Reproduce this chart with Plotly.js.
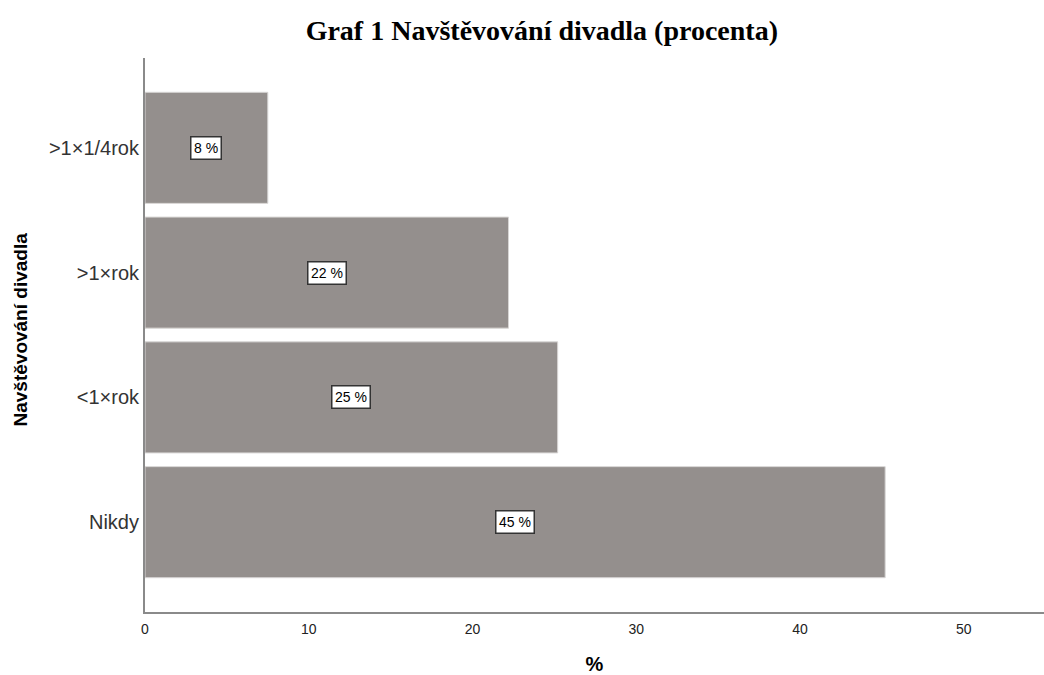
<!DOCTYPE html>
<html>
<head>
<meta charset="utf-8">
<script src="https://cdn.plot.ly/plotly-3.0.1.min.js"></script>
<style>html,body{margin:0;padding:0;background:#fff;}#chart{width:1044px;height:675px;}</style>
</head>
<body>
<div id="chart"></div>
<script>
const categories = ["Nikdy", "<1×rok", ">1×rok", ">1×1/4rok"];
const values = [45.2, 25.2, 22.2, 7.5];
const labels = ["45 %", "25 %", "22 %", "8 %"];
const xTicks = [0, 10, 20, 30, 40, 50];

const trace = {
  type: "bar",
  orientation: "h",
  y: categories,
  x: values,
  width: 0.89,
  marker: {color: "#948f8d", line: {color: "#d8d6d5", width: 1}},
  hoverinfo: "none"
};

const annotations = categories.map((c, i) => ({
  x: values[i] / 2, y: c, xref: "x", yref: "y",
  text: labels[i], showarrow: false,
  font: {family: "Liberation Sans, Arial, sans-serif", size: 14, color: "#000"},
  bgcolor: "#ffffff", bordercolor: "#333333", borderwidth: 1.5, borderpad: 2.5
}));
annotations.push({
  xref: "paper", yref: "paper", x: -0.139, y: 0.51,
  text: "<b>Navštěvování divadla</b>", textangle: -90, showarrow: false,
  xanchor: "center", yanchor: "middle",
  font: {family: "Liberation Sans, Arial, sans-serif", size: 19, color: "#000"}
});

const layout = {
  width: 1044, height: 675,
  margin: {l: 145, r: 0, t: 58, b: 63},
  paper_bgcolor: "#fff", plot_bgcolor: "#fff",
  showlegend: false,
  title: {
    text: "<b>Graf 1 Navštěvování divadla (procenta)</b>",
    x: 0.519, xanchor: "center", y: 0.955, yanchor: "middle",
    font: {family: "Liberation Serif, Times New Roman, serif", size: 28, color: "#000"}
  },
  xaxis: {
    range: [0, 54.9], tickvals: xTicks, ticktext: xTicks.map(String),
    showgrid: false, zeroline: false, showline: true, linecolor: "#8a8a8a", linewidth: 2,
    ticks: "", ticklen: 0, ticklabelstandoff: 3,
    tickfont: {family: "Liberation Sans, Arial, sans-serif", size: 14, color: "#222"},
    title: {text: "<b>%</b>", standoff: 25, font: {family: "Liberation Sans, Arial, sans-serif", size: 20, color: "#000"}},
    automargin: false, fixedrange: true
  },
  yaxis: {
    type: "category", categoryorder: "array", categoryarray: categories,
    range: [-0.72, 3.72],
    showgrid: false, zeroline: false, showline: true, linecolor: "#8a8a8a", linewidth: 2,
    ticks: "", ticklen: 0,
    tickfont: {family: "Liberation Sans, Arial, sans-serif", size: 20, color: "#333"},
    automargin: false, fixedrange: true
  },
  annotations: annotations
};

Plotly.newPlot("chart", [trace], layout, {displayModeBar: false, staticPlot: true});
</script>
</body>
</html>
